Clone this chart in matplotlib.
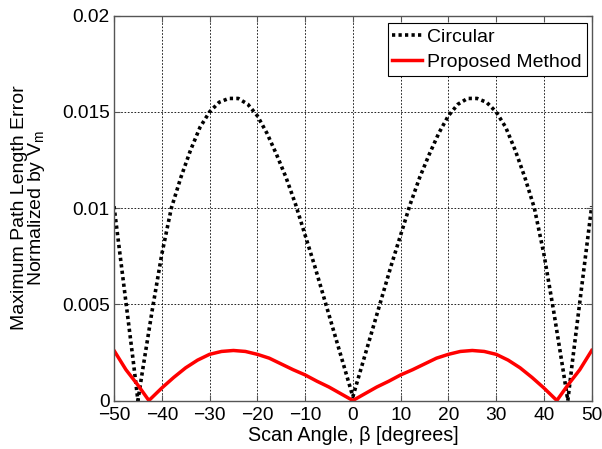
import numpy as np
import matplotlib
matplotlib.use("Agg")
import matplotlib.pyplot as plt
from matplotlib.ticker import FuncFormatter

# values, for beta >= 0 (curves are mirror symmetric)
beta_circ = [0, 2, 4, 6, 8, 10, 12, 14, 16, 18, 20, 22, 24, 26, 28, 30,
             32, 34, 36, 38, 40, 42, 44, 45, 46, 48, 50]
err_circ = [0.0002, 0.0019, 0.0036, 0.0053, 0.0070, 0.0086, 0.0102, 0.0116,
            0.0128, 0.0139, 0.0148, 0.0154, 0.0157, 0.0157, 0.0155, 0.0150,
            0.0142, 0.0130, 0.0116, 0.0100, 0.0076, 0.0047, 0.0016, 0.0,
            0.0021, 0.0061, 0.0101]

beta_prop = [0, 2.5, 5, 7.5, 10, 12.5, 15, 17.5, 20, 22.5, 25, 27.5, 30,
             32.5, 35, 37.5, 40, 42.7, 45, 47.5, 50]
err_prop = [0.0, 0.00035, 0.0007, 0.001, 0.00133, 0.0016, 0.0019, 0.0022,
            0.0024, 0.00255, 0.0026, 0.00255, 0.0024, 0.0021, 0.0017, 0.0012,
            0.00065, 0.0, 0.0008, 0.0016, 0.0026]

labels = ["Circular", "Proposed Method"]


def mirror(b, v):
    b = np.asarray(b, float)
    v = np.asarray(v, float)
    return np.concatenate([-b[:0:-1], b]), np.concatenate([v[:0:-1], v])


plt.rcParams['font.family'] = ['Liberation Sans', 'DejaVu Sans']

fig = plt.figure(figsize=(6.02, 4.49), dpi=100)
ax = fig.add_axes([0.1894, 0.108, 0.7935, 0.857])

x, y = mirror(beta_circ, err_circ)
ax.plot(x, y, color='black', lw=2.6, linestyle=(0, (0.9, 0.9)), label=labels[0])
x, y = mirror(beta_prop, err_prop)
ax.plot(x, y, color='red', lw=2.5, label=labels[1])

ax.set_xlim(-50, 50)
ax.set_ylim(0, 0.02)
ax.set_xticks(np.arange(-50, 51, 10))
ax.set_yticks([0, 0.005, 0.01, 0.015, 0.02])
ax.yaxis.set_major_formatter(FuncFormatter(lambda v, p: '%g' % v))
ax.grid(True, color='black', linestyle=(0, (2, 2)), lw=0.6)
ax.tick_params(direction='in', length=4, width=0.8, top=True, right=True,
               colors='#555555', labelcolor='black', labelsize=13.8)
ax.tick_params(axis='x', pad=5)
ax.tick_params(axis='y', pad=3)
for s in ax.spines.values():
    s.set_color('#555555')
    s.set_linewidth(1.0)

ax.set_xlabel('Scan Angle, \u03b2 [degrees]', fontsize=14.2)
ax.xaxis.set_label_coords(0.5, -0.066)
ax.set_ylabel('Maximum Path Length Error\nNormalized by V$_\\mathregular{m}$',
              fontsize=14, linespacing=0.85)
ax.yaxis.set_label_coords(-0.14, 0.5)

leg = ax.legend(loc='upper right', bbox_to_anchor=(0.990, 0.980),
                fancybox=False, framealpha=1, edgecolor='black',
                fontsize=14, handlelength=1.5, borderaxespad=0,
                borderpad=0.25, labelspacing=0.4, handletextpad=0.3)
leg.get_frame().set_linewidth(0.8)

fig.savefig('out.png', dpi=100)
